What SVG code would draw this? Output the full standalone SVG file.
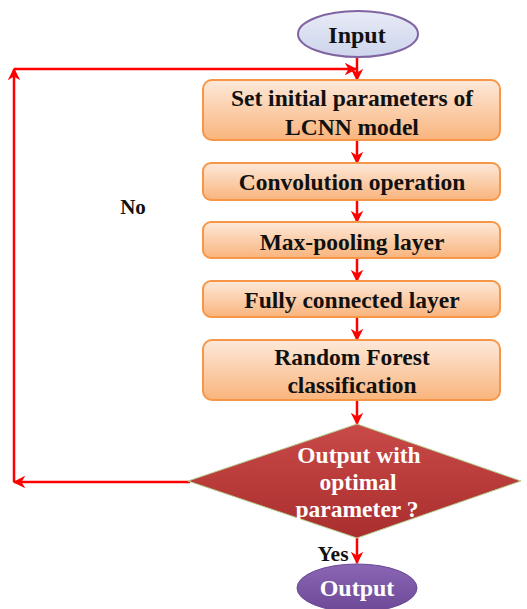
<svg xmlns="http://www.w3.org/2000/svg" width="527" height="609" viewBox="0 0 527 609">
<defs>
<linearGradient id="gBox" x1="0" y1="0" x2="0" y2="1">
<stop offset="0" stop-color="#FDE9DA"/>
<stop offset="1" stop-color="#F9B47C"/>
</linearGradient>
<linearGradient id="gIn" x1="0" y1="0" x2="0" y2="1">
<stop offset="0" stop-color="#E8EBF6"/>
<stop offset="1" stop-color="#CDD4EC"/>
</linearGradient>
<linearGradient id="gDia" x1="0" y1="0" x2="0" y2="1">
<stop offset="0" stop-color="#C94A48"/>
<stop offset="1" stop-color="#A92E2D"/>
</linearGradient>
<linearGradient id="gOut" x1="0" y1="0" x2="0" y2="1">
<stop offset="0" stop-color="#8A66B5"/>
<stop offset="1" stop-color="#6C4896"/>
</linearGradient>
<marker id="arr" viewBox="0 0 10 10" refX="9" refY="5" markerWidth="5" markerHeight="5" orient="auto" markerUnits="strokeWidth">
<path d="M0,0 L10,5 L0,10 L3,5 z" fill="#FF0000"/>
</marker>
</defs>
<style>
.box{fill:url(#gBox);stroke:#F79646;stroke-width:2}
.t{font-family:"Liberation Serif","Times New Roman",serif;font-weight:bold;font-size:23.5px;text-anchor:middle;fill:#111}
.w{fill:#FFFFFF}
.c{stroke:#FF0000;stroke-width:2.5;fill:none;marker-end:url(#arr)}
</style>
<g id="connectors">
<line class="c" x1="357" y1="57" x2="357" y2="80"/>
<line class="c" x1="357" y1="140" x2="357" y2="163"/>
<line class="c" x1="357" y1="200" x2="357" y2="222"/>
<line class="c" x1="357" y1="258" x2="357" y2="281"/>
<line class="c" x1="357" y1="317" x2="357" y2="340"/>
<line class="c" x1="357" y1="400" x2="357" y2="424"/>
<line class="c" x1="357" y1="538" x2="357" y2="563"/>
<line class="c" x1="190" y1="482" x2="14" y2="482"/>
<line class="c" x1="14" y1="482" x2="14" y2="69"/>
<line class="c" x1="14" y1="69" x2="356" y2="69"/>
<text class="t" x="133" y="214" style="font-size:21px">No</text>
<text class="t" x="333" y="561" style="font-size:21.5px">Yes</text>
</g>
<g id="input">
<ellipse cx="358" cy="34" rx="60" ry="23" fill="url(#gIn)" stroke="#8064A2" stroke-width="2"/>
<text class="t" x="357" y="43" style="font-size:24px">Input</text>
</g>
<g id="box1">
<rect class="box" x="203" y="80" width="297" height="60" rx="9"/>
<text class="t" x="352" y="106">Set initial parameters of</text>
<text class="t" x="352" y="135">LCNN model</text>
</g>
<g id="box2">
<rect class="box" x="203" y="163" width="297" height="37" rx="8"/>
<text class="t" x="352" y="190">Convolution operation</text>
</g>
<g id="box3">
<rect class="box" x="203" y="222" width="297" height="36" rx="8"/>
<text class="t" x="352" y="250">Max-pooling layer</text>
</g>
<g id="box4">
<rect class="box" x="203" y="281" width="297" height="36" rx="8"/>
<text class="t" x="352" y="308">Fully connected layer</text>
</g>
<g id="box5">
<rect class="box" x="203" y="340" width="297" height="60" rx="9"/>
<text class="t" x="352" y="365">Random Forest</text>
<text class="t" x="352" y="393">classification</text>
</g>
<g id="decision">
<polygon points="357,424 521,481 357,538 188,481" fill="url(#gDia)" stroke="#B5CC8E" stroke-width="1"/>
<text class="t w" x="359" y="463">Output with</text>
<text class="t w" x="358" y="490">optimal</text>
<text class="t w" x="357" y="517">parameter ?</text>
</g>
<g id="output">
<ellipse cx="357" cy="588" rx="60" ry="24" fill="url(#gOut)" stroke="#6A4A94" stroke-width="1"/>
<text class="t w" x="357" y="596" style="font-size:24px">Output</text>
</g>
</svg>
